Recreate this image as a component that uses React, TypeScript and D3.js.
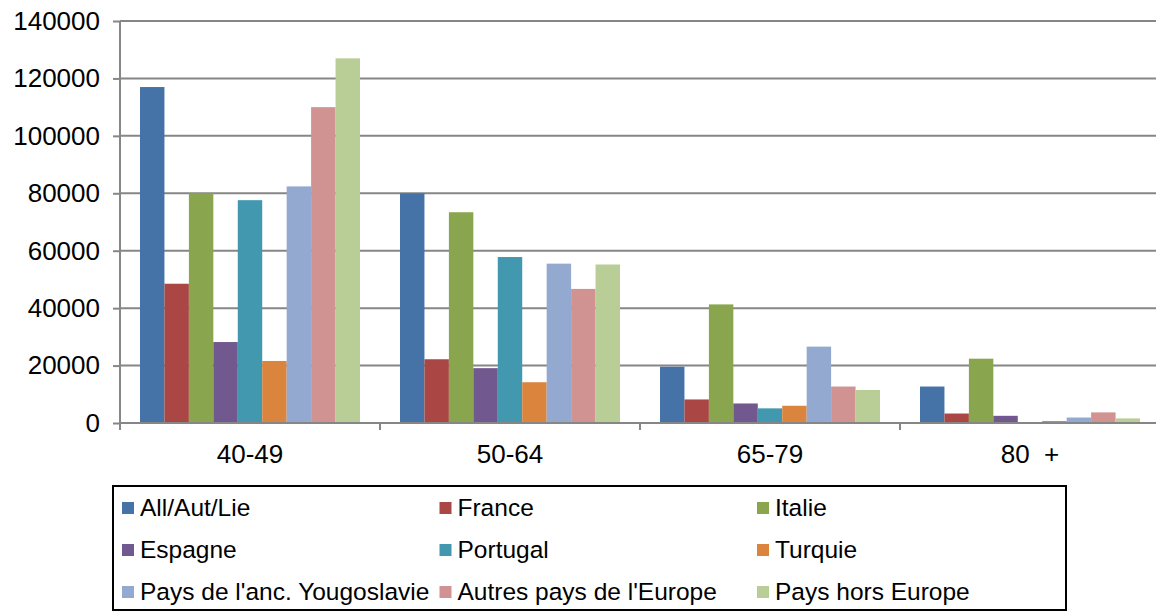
import React, { useEffect, useRef } from 'react';
import * as d3 from 'd3';

const categories = ['40-49', '50-64', '65-79', '80  +'];

const allAutLie = [117000, 80000, 19600, 12700];
const france = [48500, 22200, 8200, 3300];
const italie = [80000, 73400, 41300, 22400];
const espagne = [28200, 19100, 6800, 2500];
const portugal = [77600, 57800, 5100, 0];
const turquie = [21600, 14200, 6000, 700];
const yougoslavie = [82400, 55500, 26600, 1900];
const autresEurope = [110000, 46700, 12700, 3700];
const horsEurope = [127000, 55200, 11500, 1600];

const seriesNames = [
  'All/Aut/Lie', 'France', 'Italie',
  'Espagne', 'Portugal', 'Turquie',
  "Pays de l'anc. Yougoslavie", "Autres pays de l'Europe", 'Pays hors Europe'
];
const seriesValues = [allAutLie, france, italie, espagne, portugal, turquie, yougoslavie, autresEurope, horsEurope];
const colors = ['#4572A7', '#AA4643', '#89A54E', '#71588F', '#4198AF', '#DB843D', '#93A9CF', '#D19392', '#B9CD96'];

const yTicks = [0, 20000, 40000, 60000, 80000, 100000, 120000, 140000];

export default function App() {
  const ref = useRef<SVGSVGElement>(null);

  useEffect(() => {
    const width = 1156, height = 612;
    const left = 120, top = 21, bottom = 423;
    const font = 'Liberation Sans, Arial, sans-serif';

    const svg = d3.select(ref.current);
    svg.selectAll('*').remove();
    svg.attr('width', width).attr('height', height);

    const x0 = d3.scaleBand().domain(categories).range([left, left + 260 * categories.length]).padding(0);
    const x1 = d3.scaleBand().domain(seriesNames).range([20, 240]).padding(0);
    const y = d3.scaleLinear().domain([0, 140000]).range([bottom, top]);

    // grid
    svg.append('g').selectAll('line')
      .data(yTicks.filter(d => d > 0))
      .enter().append('line')
      .attr('x1', left).attr('x2', width)
      .attr('y1', d => y(d)).attr('y2', d => y(d))
      .style('stroke', '#868686').style('stroke-width', 2);

    // bars
    const groups = svg.append('g').selectAll('g')
      .data(categories)
      .enter().append('g')
      .attr('transform', d => 'translate(' + x0(d) + ',0)');

    groups.selectAll('rect')
      .data((c, ci) => seriesNames.map((s, si) => ({ s, si, v: seriesValues[si][ci] })))
      .enter().append('rect')
      .attr('x', d => x1(d.s)!)
      .attr('width', x1.bandwidth())
      .attr('y', d => y(d.v))
      .attr('height', d => bottom - y(d.v))
      .style('fill', d => colors[d.si]);

    // y axis
    const yAxis = d3.axisLeft(y).tickValues(yTicks).tickSize(7).tickPadding(13).tickFormat(d => String(d));
    const gy = svg.append('g').attr('transform', 'translate(' + left + ',0)').call(yAxis);
    gy.select('.domain').style('stroke', '#868686').style('stroke-width', 2).attr('d', 'M0,' + top + 'V' + bottom);
    gy.selectAll('.tick line').style('stroke', '#868686').style('stroke-width', 2);
    gy.selectAll('.tick text').style('font-family', font).style('font-size', '26px').style('fill', '#000');

    // x axis
    svg.append('line')
      .attr('x1', left).attr('x2', width)
      .attr('y1', bottom).attr('y2', bottom)
      .style('stroke', '#868686').style('stroke-width', 2);

    for (let i = 0; i <= categories.length; i++) {
      const xx = left + i * x0.bandwidth();
      svg.append('line')
        .attr('x1', xx).attr('x2', xx)
        .attr('y1', bottom).attr('y2', bottom + 7)
        .style('stroke', '#868686').style('stroke-width', 2);
    }

    svg.append('g').selectAll('text')
      .data(categories)
      .enter().append('text')
      .attr('x', d => x0(d)! + x0.bandwidth() / 2)
      .attr('y', 463)
      .attr('text-anchor', 'middle')
      .style('white-space', 'pre')
      .style('font-family', font).style('font-size', '26px')
      .text(d => d);

    // legend
    const legend = svg.append('g');
    legend.append('rect')
      .attr('x', 113).attr('y', 486)
      .attr('width', 953).attr('height', 124)
      .style('fill', 'white').style('stroke', '#000').style('stroke-width', 2);

    seriesNames.forEach((name, i) => {
      const col = i % 3, row = Math.floor(i / 3);
      const lx = 122 + col * 317.5;
      const ly = 516 + row * 42;
      legend.append('rect')
        .attr('x', lx).attr('y', ly - 14)
        .attr('width', 12).attr('height', 12)
        .style('fill', colors[i]);
      legend.append('text')
        .attr('x', lx + 18).attr('y', ly)
        .style('font-family', font).style('font-size', '24.5px')
        .text(name);
    });
  }, []);

  return (
    <div>
      <svg ref={ref} style={{ position: 'absolute', left: 0, top: 0 }}></svg>
    </div>
  );
}
